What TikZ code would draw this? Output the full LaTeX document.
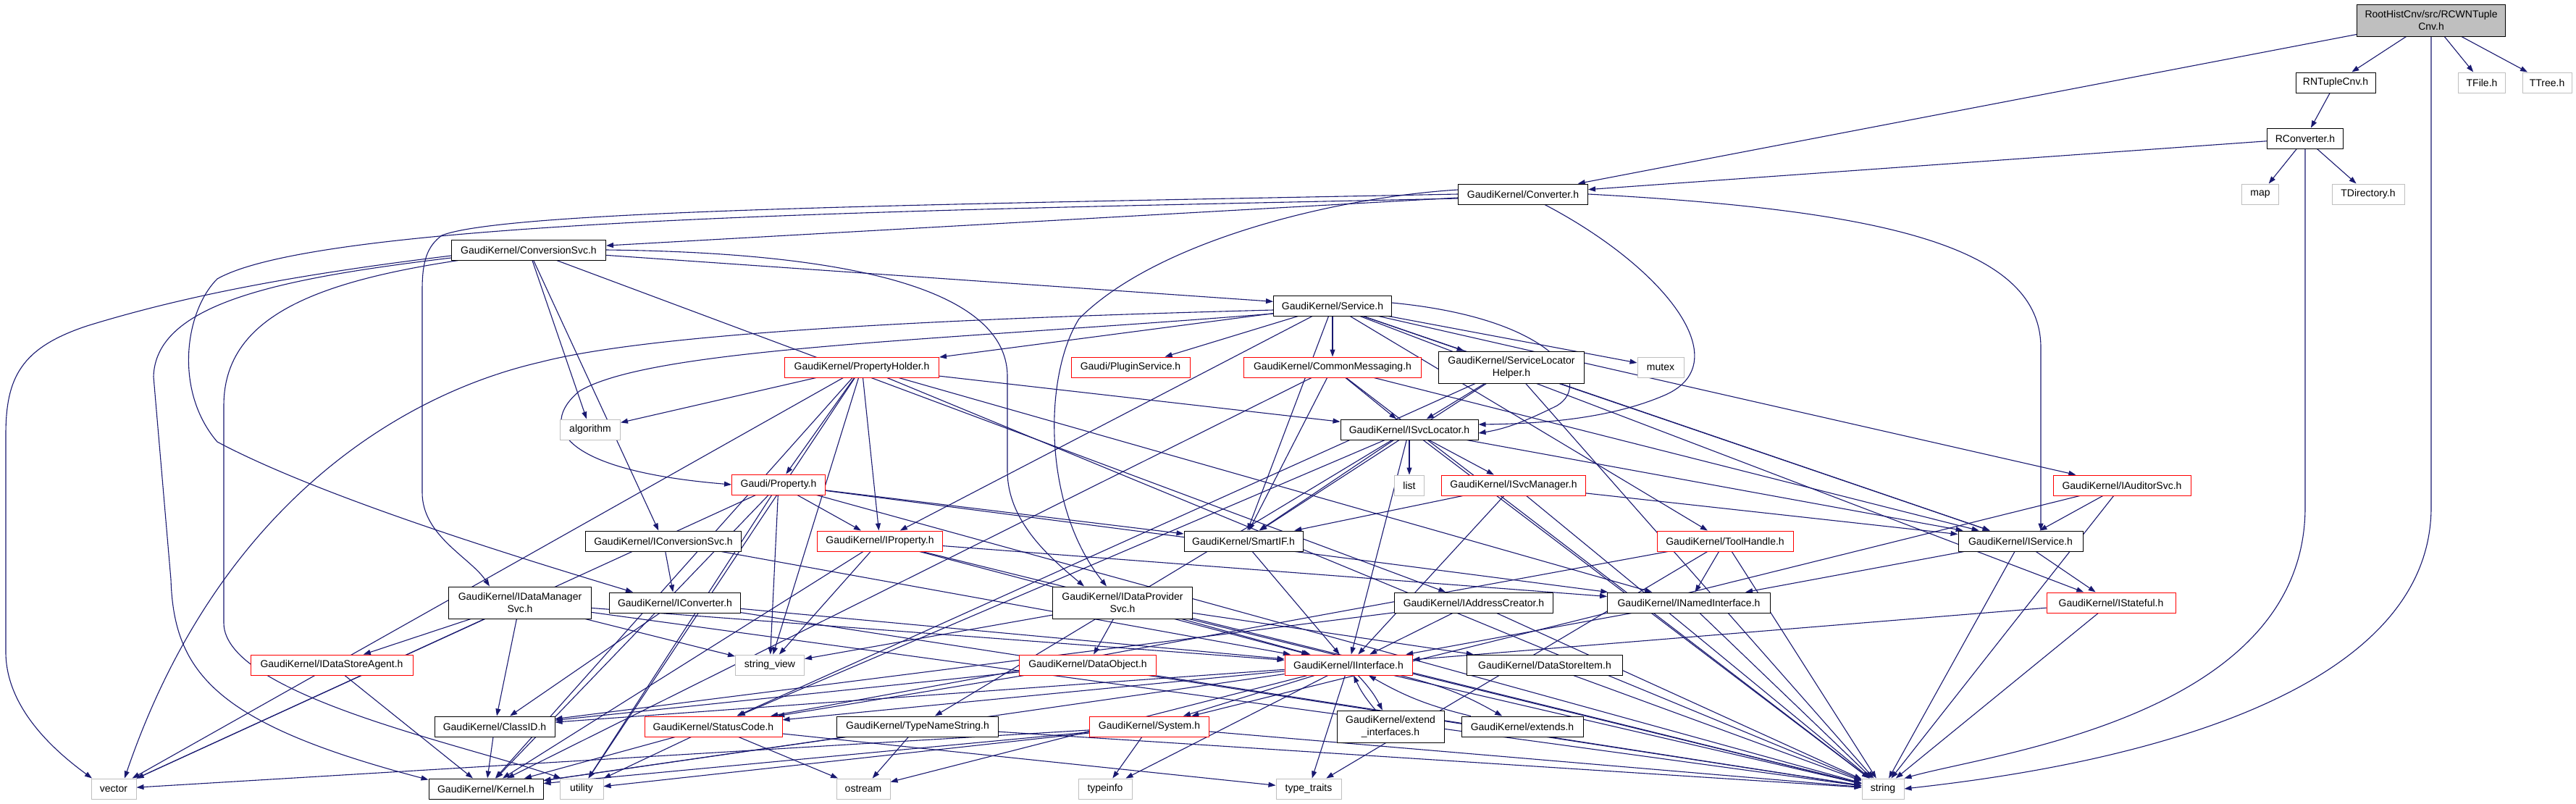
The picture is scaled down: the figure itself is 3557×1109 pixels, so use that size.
\documentclass[tikz,border=0pt]{standalone}
\usepackage{fontspec}
\setmainfont{Liberation Sans}
\usetikzlibrary{arrows.meta,calc}
\definecolor{edgec}{HTML}{191970}
\definecolor{redc}{HTML}{FF0000}
\definecolor{grayc}{HTML}{BFBFBF}
\pgfdeclarelayer{bg}
\pgfsetlayers{bg,main}
\begin{document}
\begin{tikzpicture}[x=1pt,y=-1pt,
 box/.style={draw=black, line width=1pt, fill=white, inner sep=0pt, minimum height=28pt, font=\fontsize{14}{17}\selectfont, align=center},
 nb/.style={box},
 nr/.style={box, draw=redc},
 ng/.style={box, draw=grayc},
 nroot/.style={box, fill=grayc},
 two/.style={minimum height=44pt},
 e/.style={draw=edgec, line width=1.1pt, -{Triangle[length=10pt,width=7pt]}}]
\useasboundingbox (0,0) rectangle (3557,1109);
\node[nroot,two,minimum width=205pt] (root) at (3357,28) {RootHistCnv/src/RCWNTuple\\Cnv.h};
\node[nb,minimum width=110pt] (rntuple) at (3225,114) {RNTupleCnv.h};
\node[ng,minimum width=65pt] (tfile) at (3427,114) {TFile.h};
\node[ng,minimum width=68pt] (ttree) at (3517,114) {TTree.h};
\node[nb,minimum width=105pt] (rconv) at (3183,191) {RConverter.h};
\node[ng,minimum width=51pt] (map) at (3121,268) {map};
\node[ng,minimum width=100pt] (tdir) at (3270,268) {TDirectory.h};
\node[nb,minimum width=179pt] (conv) at (2103,268) {GaudiKernel/Converter.h};
\node[nb,minimum width=213pt] (convsvc) at (730,345) {GaudiKernel/ConversionSvc.h};
\node[nb,minimum width=163pt] (service) at (1840,422) {GaudiKernel/Service.h};
\node[nr,minimum width=213pt] (propholder) at (1190,507) {GaudiKernel/PropertyHolder.h};
\node[nr,minimum width=164pt] (plugin) at (1561,507) {Gaudi/PluginService.h};
\node[nr,minimum width=245pt] (commsg) at (1840,507) {GaudiKernel/CommonMessaging.h};
\node[nb,two,minimum width=201pt] (slh) at (2087,507) {GaudiKernel/ServiceLocator\\Helper.h};
\node[ng,minimum width=64pt] (mutex) at (2293,507) {mutex};
\node[nb,minimum width=190pt] (isvcloc) at (1946,593) {GaudiKernel/ISvcLocator.h};
\node[ng,minimum width=83pt] (algorithm) at (815,593) {algorithm};
\node[nr,minimum width=129pt] (property) at (1075,669) {Gaudi/Property.h};
\node[ng,minimum width=41pt] (list) at (1946,670) {list};
\node[nr,minimum width=199pt] (isvcmgr) at (2090,670) {GaudiKernel/ISvcManager.h};
\node[nr,minimum width=190pt] (iaud) at (2930,670) {GaudiKernel/IAuditorSvc.h};
\node[nb,minimum width=215pt] (iconvsvc) at (916,747) {GaudiKernel/IConversionSvc.h};
\node[nr,minimum width=173pt] (iproperty) at (1215,747) {GaudiKernel/IProperty.h};
\node[nb,minimum width=164pt] (smartif) at (1717,747) {GaudiKernel/SmartIF.h};
\node[nr,minimum width=188pt] (toolhandle) at (2382,747) {GaudiKernel/ToolHandle.h};
\node[nb,minimum width=172pt] (iservice) at (2790,747) {GaudiKernel/IService.h};
\node[nb,two,minimum width=197pt] (idms) at (718,832) {GaudiKernel/IDataManager\\Svc.h};
\node[nb,minimum width=181pt] (iconverter) at (932,832) {GaudiKernel/IConverter.h};
\node[nb,two,minimum width=193pt] (idps) at (1550,832) {GaudiKernel/IDataProvider\\Svc.h};
\node[nb,minimum width=219pt] (iaddr) at (2035,832) {GaudiKernel/IAddressCreator.h};
\node[nb,minimum width=225pt] (inamed) at (2332,832) {GaudiKernel/INamedInterface.h};
\node[nr,minimum width=178pt] (istateful) at (2915,832) {GaudiKernel/IStateful.h};
\node[nr,minimum width=224pt] (idsa) at (458,918) {GaudiKernel/IDataStoreAgent.h};
\node[ng,minimum width=95pt] (stringview) at (1063,918) {string\_view};
\node[nr,minimum width=189pt] (dataobject) at (1502,918) {GaudiKernel/DataObject.h};
\node[nr,minimum width=176pt] (iinterface) at (1862,918) {GaudiKernel/IInterface.h};
\node[nb,minimum width=215pt] (dsi) at (2133,918) {GaudiKernel/DataStoreItem.h};
\node[nb,minimum width=166pt] (classid) at (683,1003) {GaudiKernel/ClassID.h};
\node[nr,minimum width=190pt] (statuscode) at (985,1003) {GaudiKernel/StatusCode.h};
\node[nb,minimum width=223pt] (tns) at (1267,1003) {GaudiKernel/TypeNameString.h};
\node[nr,minimum width=165pt] (system) at (1587,1003) {GaudiKernel/System.h};
\node[nb,two,minimum width=148pt] (extif) at (1920,1003) {GaudiKernel/extend\\\_interfaces.h};
\node[nb,minimum width=168pt] (extends) at (2102,1003) {GaudiKernel/extends.h};
\node[ng,minimum width=62pt] (vector) at (157,1089) {vector};
\node[nb,minimum width=158pt] (kernel) at (671,1089) {GaudiKernel/Kernel.h};
\node[ng,minimum width=60pt] (utility) at (803,1089) {utility};
\node[ng,minimum width=74pt] (ostream) at (1192,1089) {ostream};
\node[ng,minimum width=74pt] (typeinfo) at (1526,1089) {typeinfo};
\node[ng,minimum width=90pt] (typetraits) at (1807,1089) {type\_traits};
\node[ng,minimum width=58pt] (string) at (2600,1089) {string};
\begin{pgfonlayer}{bg}
\foreach \a/\b in {root/rntuple,root/tfile,root/ttree,root/conv,
 rntuple/rconv,rconv/conv,rconv/map,rconv/tdir,
 conv/convsvc,
 convsvc/service,convsvc/iconvsvc,convsvc/iaddr,convsvc/algorithm,
 service/propholder,service/plugin,service/commsg,service/slh,service/mutex,service/iaud,service/iservice,service/iproperty,service/smartif,service/toolhandle,service/istateful,
 propholder/algorithm,propholder/property,propholder/iproperty,propholder/isvcloc,propholder/stringview,propholder/vector,propholder/kernel,propholder/utility,propholder/string,propholder/inamed,
 commsg/isvcloc,commsg/smartif,commsg/iservice,commsg/string,commsg/kernel,
 slh/isvcloc,slh/iservice,slh/string,slh/statuscode,slh/smartif,
 isvcloc/list,isvcloc/isvcmgr,isvcloc/smartif,isvcloc/iinterface,isvcloc/tns,isvcloc/iservice,isvcloc/string,isvcloc/statuscode,
 isvcmgr/smartif,isvcmgr/iinterface,isvcmgr/iservice,isvcmgr/string,
 property/iproperty,property/smartif,property/kernel,property/vector,property/utility,property/string,property/stringview,property/inamed,
 iproperty/stringview,iproperty/iinterface,iproperty/string,iproperty/inamed,iproperty/kernel,
 smartif/iinterface,
 toolhandle/inamed,toolhandle/string,toolhandle/typetraits,toolhandle/statuscode,
 iservice/inamed,iservice/istateful,iservice/string,
 iaud/iservice,iaud/string,iaud/system,
 istateful/iinterface,istateful/string,
 iconvsvc/iconverter,iconvsvc/iinterface,
 iconverter/classid,iconverter/iinterface,iconverter/string,
 idms/idsa,idms/classid,idms/vector,idms/stringview,idms/iinterface,idms/string,
 idsa/kernel,
 idps/dataobject,idps/iinterface,idps/stringview,idps/dsi,idps/string,
 iaddr/iinterface,iaddr/classid,iaddr/string,
 inamed/iinterface,inamed/string,
 dataobject/classid,dataobject/statuscode,dataobject/string,
 iinterface/classid,iinterface/statuscode,iinterface/system,iinterface/ostream,iinterface/typeinfo,iinterface/typetraits,iinterface/kernel,iinterface/string,
 statuscode/kernel,statuscode/utility,statuscode/ostream,statuscode/typetraits,
 tns/ostream,tns/kernel,tns/string,
 system/typeinfo,system/string,system/vector,system/kernel,system/utility,
 classid/kernel,dsi/string}
 \draw[e] (\a) -- (\b);
% routed connectors
\draw[e] (root.south) -- (3357,700) .. controls (3357,1000) and (2800,1070) .. (string.east);
\draw[e] (rconv.south) -- (3183,700) .. controls (3183,990) and (2750,1040) .. (string.north east);
\draw[e] (conv.east) .. controls (2600,290) and (2818,340) .. (2818,480) -- ($(iservice.north)+(28,0)$);
\draw[e] ($(conv.south)+(30,0)$) .. controls (2300,370) and (2400,500) .. (2300,545) .. controls (2220,580) and (2120,585) .. ($(isvcloc.east)+(0,-7)$);
\draw[e] (conv.west) .. controls (1300,282) and (700,290) .. (610,325) .. controls (590,340) and (583,360) .. (583,400) -- (583,680) .. controls (583,740) and (650,770) .. ($(idms.north)+(-42,0)$);
\draw[e] ($(conv.west)+(0,6)$) .. controls (1300,290) and (450,300) .. (300,385) .. controls (255,430) and (240,540) .. (300,610) .. controls (450,690) and (750,780) .. ($(iconverter.north west)+(33,0)$);
\draw[e] ($(conv.west)+(0,-6)$) .. controls (1850,272) and (1600,330) .. (1490,440) .. controls (1440,520) and (1440,700) .. ($(idps.north)+(-22,0)$);
\draw[e] (convsvc.east) .. controls (1100,348) and (1391,380) .. (1391,520) -- (1391,650) .. controls (1391,720) and (1450,770) .. ($(idps.north west)+(44,0)$);
\draw[e] ($(convsvc.west)+(0,8)$) .. controls (400,380) and (250,410) .. (120,450) .. controls (30,480) and (8,520) .. (8,600) -- (8,900) .. controls (8,980) and (80,1040) .. ($(vector.north)+(-30,0)$);
\draw[e] ($(convsvc.south west)+(10,0)$) .. controls (430,390) and (309,440) .. (309,560) -- (309,860) .. controls (309,960) and (650,1030) .. ($(utility.north west)+(2,0)$);
\draw[e] ($(convsvc.west)+(0,11)$) .. controls (380,385) and (215,420) .. (212,520) -- (236,800) .. controls (240,930) and (300,1000) .. ($(kernel.north west)+(0,2)$);
\draw[e] ($(service.west)+(0,6)$) .. controls (1300,440) and (900,460) .. (746,500) .. controls (550,545) and (300,700) .. ($(vector.north)+(15,0)$);
\draw[e] ($(service.west)+(0,11)$) .. controls (1300,470) and (900,480) .. (800,540) .. controls (740,590) and (780,650) .. (property.west);
\draw[e] ($(service.east)+(0,-4)$) .. controls (2150,440) and (2200,530) .. (2150,560) .. controls (2110,580) and (2080,592) .. ($(isvcloc.east)+(0,5)$);
\draw[e] (iinterface) to[bend left=8] (extif);
\draw[e] (extif) to[bend left=8] (iinterface);
\draw[e] (iinterface) to[bend left=8] (extends);
\draw[e] (extends) to[bend left=8] (iinterface);
\end{pgfonlayer}
\end{tikzpicture}
\end{document}
